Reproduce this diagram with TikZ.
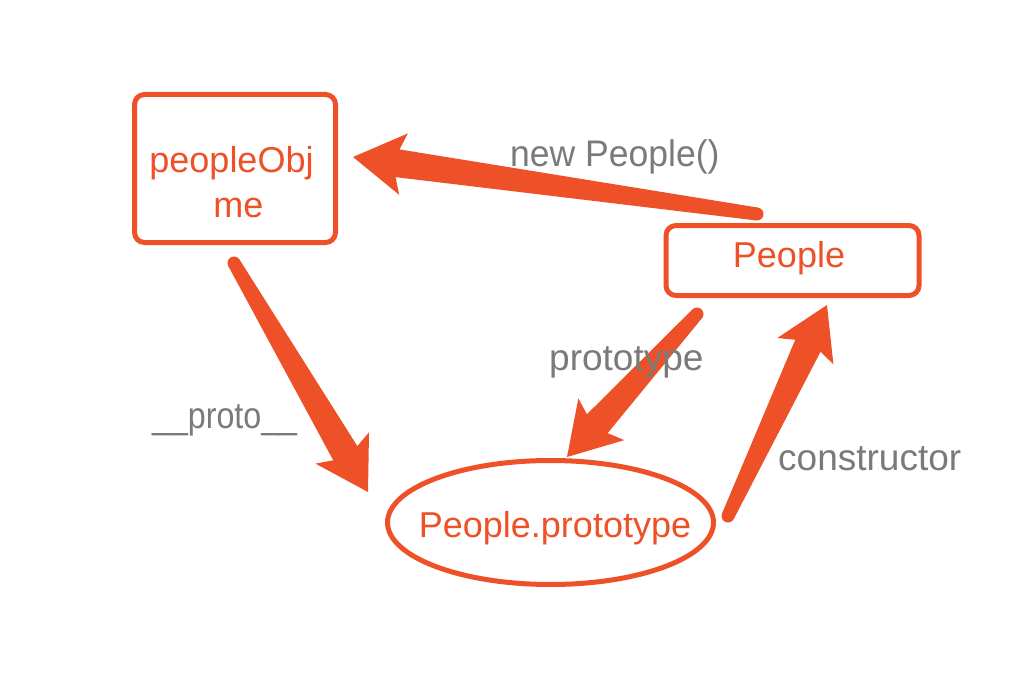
\documentclass[tikz,border=0pt]{standalone}
\usepackage{fontspec}
\setmainfont{Liberation Sans}
\usetikzlibrary{calc,shapes.geometric}
\definecolor{org}{HTML}{EE5128}
\definecolor{gry}{HTML}{7A7A7A}
\newcommand{\taparrow}[2]{%
  \coordinate (hb) at ($(#2)!51pt!(#1)$);
  \coordinate (hj) at ($(#2)!45pt!(#1)$);
  \fill[org] ($(#1)!6.5pt!90:(#2)$) -- ($(hj)!14pt!90:(#2)$) -- ($(hb)!31pt!90:(#2)$) -- (#2)
    -- ($(hb)!31pt!-90:(#2)$) -- ($(hj)!14pt!-90:(#2)$) -- ($(#1)!6.5pt!-90:(#2)$) -- cycle;
  \fill[org] (#1) circle (6.5pt);
}
\tikzset{
  box/.style={draw=org, line width=5pt, rounded corners=10pt, inner sep=0pt},
  oval/.style={draw=org, line width=5pt, ellipse, inner sep=0pt},
  otext/.style={text=org, font=\fontsize{36}{43}\selectfont, inner sep=0pt, anchor=base},
  gtext/.style={text=gry, font=\fontsize{37}{44}\selectfont, inner sep=0pt, anchor=base west},
}
\begin{document}
\begin{tikzpicture}[x=1pt,y=-1pt]
\useasboundingbox[fill=white] (0,0) rectangle (1018,698);
% nodes
\node[box, minimum width=201pt, minimum height=148pt] (obj) at (235,168.5) {};
\node[otext] (objA) at (231.5,173) {peopleObj};
\node[otext] (objB) at (238.5,218) {me};
\node[box, minimum width=253pt, minimum height=70pt] (people) at (792.5,260.5) {};
\node[otext] (peopleT) at (789,267) {People};
\node[oval, minimum width=326pt, minimum height=124pt] (proto) at (550.5,522.5) {};
\node[otext] (protoT) at (555,537) {People.prototype};
% arrow end points
\coordinate (a1) at (757,214); \coordinate (b1) at (353,157);
\coordinate (a2) at (234,263); \coordinate (b2) at (368,492);
\coordinate (a3) at (697,314); \coordinate (b3) at (567,457);
\coordinate (a4) at (728,516); \coordinate (b4) at (827,305);
\taparrow{a1}{b1}
\taparrow{a2}{b2}
\taparrow{a3}{b3}
\taparrow{a4}{b4}
% labels (drawn over the arrows)
\node[gtext, xscale=0.96, transform shape] (lnew) at (510,167) {new People()};
\node[gtext] (lproto) at (549,370) {prototype};
\node[gtext, xscale=0.87, transform shape] (l__) at (152,428) {\_\_proto\_\_};
\node[gtext] (lcons) at (778,470) {constructor};
\end{tikzpicture}
\end{document}
